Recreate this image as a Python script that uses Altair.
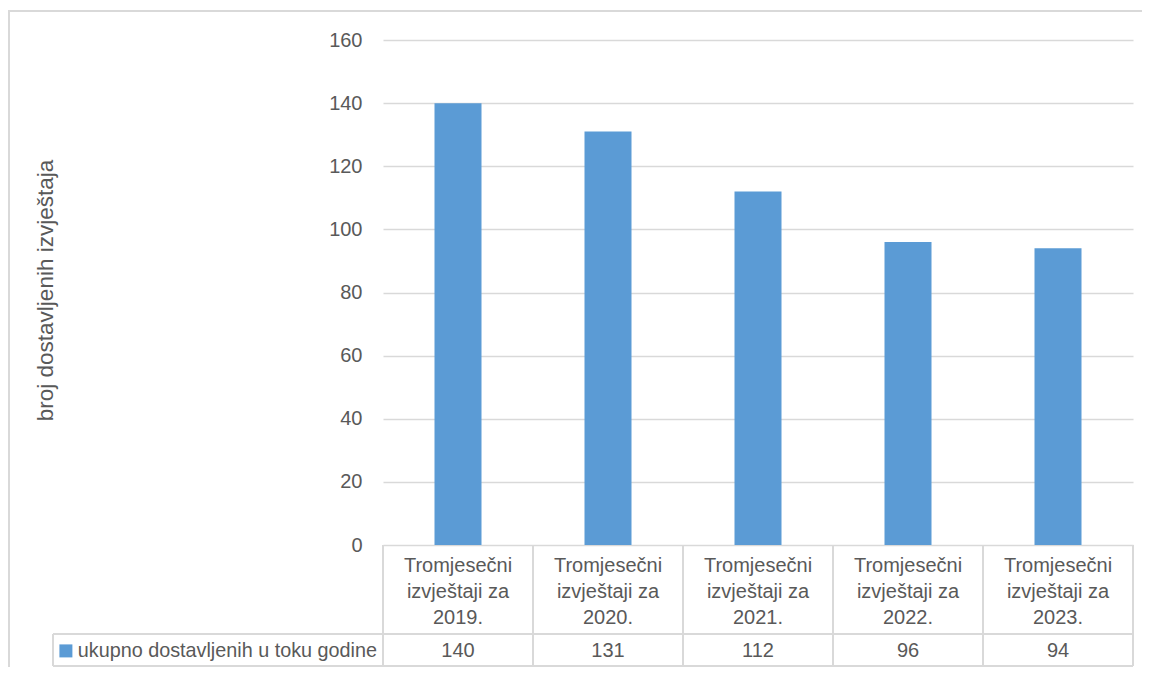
import altair as alt
import pandas as pd

categories = [
    "Tromjesečni izvještaji za 2019.",
    "Tromjesečni izvještaji za 2020.",
    "Tromjesečni izvještaji za 2021.",
    "Tromjesečni izvještaji za 2022.",
    "Tromjesečni izvještaji za 2023.",
]
values = [140, 131, 112, 96, 94]
series_name = "ukupno dostavljenih u toku godine"
y_title = "broj dostavljenih izvještaja"
y_ticks = [0, 20, 40, 60, 80, 100, 120, 140, 160]

FONT = "Liberation Sans Narrow, Arial Narrow, Liberation Sans, Arial"
TXT = "#595959"
LINE = "#D9D9D9"
BAR = "#5B9BD5"
FS = 20

df = pd.DataFrame({"cat": categories, "val": values, "series": [series_name] * len(values)})
one = pd.DataFrame({"a": [0]})

W, H = 750, 505
ROW_MID = 594
ROW_BOT = 626

xscale = alt.Scale(domain=categories, paddingInner=0, paddingOuter=0)

x_axis = alt.Axis(
    title=None, labelAngle=0, labelAlign="center", ticks=False, domain=False,
    labelFont=FONT, labelFontSize=FS, labelColor=TXT,
    labelLineHeight=26, labelBaseline="top", labelPadding=10,
    labelExpr="[substring(datum.label,0,11), substring(datum.label,12,25), substring(datum.label,26)]",
)
y_axis = alt.Axis(
    title=y_title, values=y_ticks, grid=True, gridColor=LINE, gridWidth=1.5,
    domain=False, ticks=False, labelPadding=21,
    labelFont=FONT, labelFontSize=FS, labelColor=TXT,
    titleFont=FONT, titleFontSize=22.5, titleColor=TXT, titleFontWeight="normal",
    titleAngle=-90, titleX=-338, titleY=250, titleAlign="center", titleBaseline="middle",
)

bars = alt.Chart(df).mark_bar(width=47, color=BAR).encode(
    x=alt.X("cat:N", scale=xscale, axis=x_axis, sort=categories),
    y=alt.Y("val:Q", scale=alt.Scale(domain=[0, 160], nice=False), axis=y_axis),
    color=alt.Color(
        "series:N",
        scale=alt.Scale(range=[BAR]),
        legend=alt.Legend(
            orient="none", legendX=-327, legendY=601, title=None,
            symbolType="square", symbolSize=169, symbolStrokeWidth=0,
            labelFont=FONT, labelFontSize=19.8, labelColor=TXT, labelOffset=2,
            labelLimit=400, padding=0, rowPadding=0,
        ),
    ),
)

vlines = alt.Chart(df).mark_rule(color=LINE, strokeWidth=2).encode(
    x=alt.X("cat:N", scale=xscale, bandPosition=0, sort=categories),
    y=alt.value(H), y2=alt.value(ROW_BOT),
)
vlast = alt.Chart(one).mark_rule(color=LINE, strokeWidth=2).encode(
    x=alt.value(W), y=alt.value(H), y2=alt.value(ROW_BOT),
)
hmid = alt.Chart(one).mark_rule(color=LINE, strokeWidth=2).encode(
    x=alt.value(-330), x2=alt.value(W), y=alt.value(ROW_MID),
)
hbot = alt.Chart(one).mark_rule(color=LINE, strokeWidth=2).encode(
    x=alt.value(-330), x2=alt.value(W), y=alt.value(ROW_BOT),
)
lleft = alt.Chart(one).mark_rule(color=LINE, strokeWidth=2).encode(
    x=alt.value(-330), y=alt.value(ROW_MID), y2=alt.value(ROW_BOT),
)
frame_top = alt.Chart(one).mark_rule(color=LINE, strokeWidth=2).encode(
    x=alt.value(-376), x2=alt.value(800), y=alt.value(-29),
)
frame_left = alt.Chart(one).mark_rule(color=LINE, strokeWidth=2).encode(
    x=alt.value(-374), y=alt.value(-29), y2=alt.value(640),
)

vals = alt.Chart(df).mark_text(font=FONT, fontSize=FS, color=TXT, baseline="middle").encode(
    x=alt.X("cat:N", scale=xscale, sort=categories),
    y=alt.value(611),
    text="val:Q",
)

chart = alt.layer(
    frame_top, frame_left, vlines, vlast, hmid, hbot, lleft, bars, vals
).properties(
    width=W, height=H,
    autosize=alt.AutoSizeParams(type="none"),
    padding={"left": 375, "top": 32, "right": 9, "bottom": 122},
).configure_view(stroke=None)

chart.save("out.html", embed_options={"renderer": "svg", "actions": False})
